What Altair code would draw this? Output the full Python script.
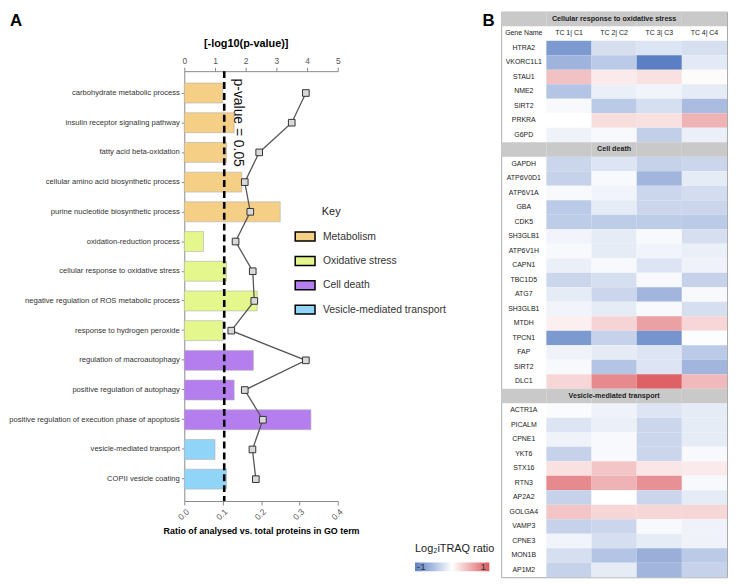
import altair as alt
import pandas as pd

# ---------------- Panel A data ----------------
terms = [
    "carbohydrate metabolic process",
    "insulin receptor signaling pathway",
    "fatty acid beta-oxidation",
    "cellular amino acid biosynthetic process",
    "purine nucleotide biosynthetic process",
    "oxidation-reduction process",
    "cellular response to oxidative stress",
    "negative regulation of ROS metabolic process",
    "response to hydrogen peroxide",
    "regulation of macroautophagy",
    "positive regulation of autophagy",
    "positive regulation of execution phase of apoptosis",
    "vesicle-mediated transport",
    "COPII vesicle coating",
]
term_groups = (["Metabolism"] * 5 + ["Oxidative stress"] * 4 + ["Cell death"] * 3
               + ["Vesicle-mediated transport"] * 2)
ratios = [0.10, 0.13, 0.11, 0.15, 0.25, 0.05, 0.11, 0.19, 0.10, 0.18, 0.13, 0.33, 0.08, 0.11]
neglogp = [3.96, 3.50, 2.44, 1.97, 2.15, 1.67, 2.23, 2.28, 1.53, 3.96, 1.97, 2.56, 2.22, 2.33]
groups = ["Metabolism", "Oxidative stress", "Cell death", "Vesicle-mediated transport"]
group_colors = ["#F5CF86", "#E3F78C", "#B47EEE", "#90D4F8"]
p_threshold = [1.301]  # -log10(0.05)

# ---------------- Panel B data ----------------
sections = ["Cellular response to oxidative stress", "Cell death", "Vesicle-mediated transport"]
tc_columns = ["TC 1| C1", "TC 2| C2", "TC 3| C3", "TC 4| C4"]
gene_col = "Gene Name"

ox_genes = ["HTRA2", "VKORC1L1", "STAU1", "NME2", "SIRT2", "PRKRA", "G6PD"]
ox_vals = [
    [-0.95, -0.30, -0.25, -0.30],
    [-0.70, -0.50, -1.20, -0.20],
    [0.45, 0.15, 0.22, 0.03],
    [-0.55, -0.15, -0.10, -0.18],
    [-0.06, -0.50, -0.30, -0.62],
    [0.00, 0.25, 0.22, 0.55],
    [-0.12, -0.06, -0.45, -0.15],
]
cd_genes = ["GAPDH", "ATP6V0D1", "ATP6V1A", "GBA", "CDK5", "SH3GLB1", "ATP6V1H", "CAPN1",
            "TBC1D5", "ATG7", "SH3GLB1", "MTDH", "TPCN1", "FAP", "SIRT2", "DLC1"]
cd_vals = [
    [-0.38, -0.25, -0.42, -0.38],
    [-0.42, -0.06, -0.68, -0.18],
    [-0.06, -0.10, -0.38, -0.32],
    [-0.50, -0.18, -0.38, -0.38],
    [-0.48, -0.48, -0.48, -0.50],
    [-0.10, -0.18, -0.06, -0.30],
    [-0.06, -0.18, -0.10, -0.15],
    [-0.15, -0.06, -0.25, -0.12],
    [-0.38, -0.30, -0.06, -0.42],
    [-0.18, -0.38, -0.68, -0.06],
    [-0.10, -0.18, -0.06, -0.30],
    [0.12, 0.32, 0.68, 0.30],
    [-0.95, -0.42, -1.00, -0.02],
    [-0.12, -0.18, -0.25, -0.50],
    [-0.06, -0.55, -0.25, -0.68],
    [0.30, 0.85, 1.15, 0.50],
]
vt_genes = ["ACTR1A", "PICALM", "CPNE1", "YKT6", "STX16", "RTN3", "AP2A2", "GOLGA4",
            "VAMP3", "CPNE3", "MON1B", "AP1M2"]
vt_vals = [
    [-0.04, -0.12, -0.25, -0.18],
    [-0.25, -0.15, -0.38, -0.18],
    [-0.12, -0.06, -0.38, -0.18],
    [-0.42, -0.06, -0.38, -0.06],
    [0.22, 0.42, 0.18, 0.15],
    [0.85, 0.55, 0.80, -0.06],
    [-0.42, 0.00, -0.38, -0.18],
    [0.42, 0.30, 0.30, 0.30],
    [-0.42, -0.38, -0.06, -0.12],
    [-0.10, -0.30, -0.18, -0.12],
    [-0.30, -0.55, -0.75, -0.50],
    [-0.42, -0.18, -0.68, -0.42],
]
legend_values = [-1, 1]

FONT = "Liberation Sans"

# ---------------- Panel A ----------------
dfA = pd.DataFrame({"term": terms, "group": term_groups, "ratio": ratios,
                    "logp": neglogp, "idx": list(range(len(terms)))})

yA = alt.Y("term:N", sort=terms,
           scale=alt.Scale(domain=terms, range=[60, 494], paddingInner=0.33, paddingOuter=0.4),
           axis=alt.Axis(title=None, labelFontSize=7.7, labelColor="#333", labelLimit=260,
                         tickSize=3, tickColor="#888", domainColor="#888", labelPadding=2))

bars = alt.Chart(dfA).mark_bar(stroke="#b0b0b0", strokeWidth=0.6).encode(
    x=alt.X("ratio:Q", scale=alt.Scale(domain=[0, 0.4], nice=False),
            axis=alt.Axis(values=[0, 0.1, 0.2, 0.3, 0.4], format=".1f", labelAngle=-45,
                          labelFontSize=8.5, labelColor="#555", tickColor="#888",
                          domainColor="#888", tickSize=4, grid=False,
                          title="Ratio of analysed vs. total proteins in GO term",
                          titleFontSize=9, titleFontWeight="bold", titlePadding=5)),
    y=yA,
    color=alt.Color("group:N", scale=alt.Scale(domain=groups, range=group_colors),
                    legend=alt.Legend(title=None, orient="none", legendX=111, legendY=216,
                                      symbolType="M-1,-0.45H1V0.45H-1Z", symbolSize=400,
                                      symbolStrokeColor="black", symbolStrokeWidth=1.5,
                                      symbolOpacity=1, labelFontSize=10.5, labelColor="#333",
                                      labelOffset=7, rowPadding=5.6)),
)

xlog = alt.X("logp:Q", scale=alt.Scale(domain=[0, 5], nice=False),
             axis=alt.Axis(orient="top", offset=-60, values=[0, 1, 2, 3, 4, 5], format="d",
                           labelFontSize=8.5, labelColor="#555", tickColor="#888",
                           domainColor="#888", tickSize=4, grid=False, labelAngle=0,
                           labelOverlap=False, labelFlush=False,
                           title="[-log10(p-value)]", titleFontSize=11,
                           titleFontWeight="bold", titleX=62, titlePadding=8))
yA_plain = alt.Y("term:N", sort=terms)

df_rule = pd.DataFrame({"logp": p_threshold})
rule = alt.Chart(df_rule).mark_rule(color="black", strokeWidth=2.6, strokeDash=[7, 4]).encode(
    x=xlog, y=alt.value(60), y2=alt.value(494))

line = alt.Chart(dfA).mark_line(color="#555555", strokeWidth=1.3).encode(
    x=xlog, y=yA_plain, order="idx:Q")

pts = alt.Chart(dfA).mark_square(size=45, filled=True, fill="#d9d9d9", stroke="#333",
                                 strokeWidth=1, opacity=1).encode(x=xlog, y=yA_plain)

df_pv = pd.DataFrame({"logp": [1.74], "term": [terms[1]], "label": ["p-value = 0.05"]})
pv_text = alt.Chart(df_pv).mark_text(angle=90, fontSize=14, color="#111", font=FONT).encode(
    x=xlog, y=yA_plain, text="label:N")

df_key = pd.DataFrame({"logp": [4.48], "term": [terms[4]], "label": ["Key"]})
key_text = alt.Chart(df_key).mark_text(align="left", fontSize=11, color="#222", font=FONT).encode(
    x=xlog, y=yA_plain, text="label:N")

df_a = pd.DataFrame({"label": ["A"]})
letter_a = alt.Chart(df_a).mark_text(align="left", baseline="top", fontSize=17,
                                     fontWeight="bold", font=FONT, color="black").encode(
    x=alt.value(-176), y=alt.value(1), text="label:N")

right_layers = alt.layer(rule, line, pts, pv_text, key_text)
panelA = alt.layer(alt.layer(bars, letter_a), right_layers).resolve_scale(x="independent").properties(
    width=155, height=494)

# ---------------- Panel B ----------------
all_cols = [gene_col] + tc_columns
heat_rows, text_rows, band_rows = [], [], []
r = 0
for si, (sec, genes, vals) in enumerate(zip(sections, [ox_genes, cd_genes, vt_genes],
                                            [ox_vals, cd_vals, vt_vals])):
    for c in all_cols:
        band_rows.append({"row": r, "col": c})
    text_rows.append({"row": r, "col": tc_columns[1], "label": sec, "kind": "section"})
    r += 1
    if si == 0:
        for c in all_cols:
            text_rows.append({"row": r, "col": c, "label": c, "kind": "header"})
        r += 1
    for g, v in zip(genes, vals):
        text_rows.append({"row": r, "col": gene_col, "label": g, "kind": "gene"})
        for c, val in zip(tc_columns, v):
            heat_rows.append({"row": r, "col": c, "value": val})
        r += 1
n_rows = r

df_heat = pd.DataFrame(heat_rows)
df_text = pd.DataFrame(text_rows)
df_band = pd.DataFrame(band_rows)

xB = alt.X("col:N", scale=alt.Scale(domain=all_cols, paddingInner=0, paddingOuter=0), axis=None)
yB = alt.Y("row:O", scale=alt.Scale(domain=list(range(n_rows)), paddingInner=0, paddingOuter=0),
           axis=None)

heat = alt.Chart(df_heat).mark_rect().encode(
    x=xB, y=yB,
    color=alt.Color("value:Q",
                    scale=alt.Scale(domain=[-1.2, 0, 1.2], range=["#5b7fc3", "#ffffff", "#dc5a5e"],
                                    interpolate="rgb", clamp=True),
                    legend=alt.Legend(title="Log\u2082iTRAQ ratio", orient="none", legendX=-87,
                                      legendY=536, direction="horizontal", gradientLength=75,
                                      gradientThickness=9, values=legend_values,
                                      titleFontSize=11, titleFontWeight="normal",
                                      titleColor="#222", titlePadding=9, labelFontSize=10,
                                      labelColor="#333", labelOffset={"expr": "-9.5"},
                                      labelExpr="'' + datum.value", gradientStrokeWidth=0)),
)
band = alt.Chart(df_band).mark_rect(color="#c9c9c9").encode(x=xB, y=yB)
txt_norm = alt.Chart(df_text).transform_filter("datum.kind != 'section'").mark_text(
    fontSize=7, color="#222", font=FONT).encode(x=xB, y=yB, text="label:N")
txt_sec = alt.Chart(df_text).transform_filter("datum.kind == 'section'").mark_text(
    fontSize=7.2, fontWeight="bold", color="#222", font=FONT).encode(x=xB, y=yB, text="label:N")

df_b = pd.DataFrame({"label": ["B"]})
letter_b = alt.Chart(df_b).mark_text(align="left", baseline="top", fontSize=17,
                                     fontWeight="bold", font=FONT, color="black").encode(
    x=alt.value(-19), y=alt.value(1), text="label:N")

panelB = alt.layer(heat, band, txt_norm, txt_sec, letter_b).properties(
    width=228, height=571, view=alt.ViewBackground(stroke="#aaaaaa", strokeWidth=1))

chart = alt.hconcat(panelA, panelB, spacing=165, bounds="flush").resolve_scale(
    color="independent").resolve_legend(color="independent").properties(
    padding=0).configure(font=FONT).configure_view(stroke="transparent")

chart.save("out.html", embed_options={"renderer": "svg", "actions": False})
